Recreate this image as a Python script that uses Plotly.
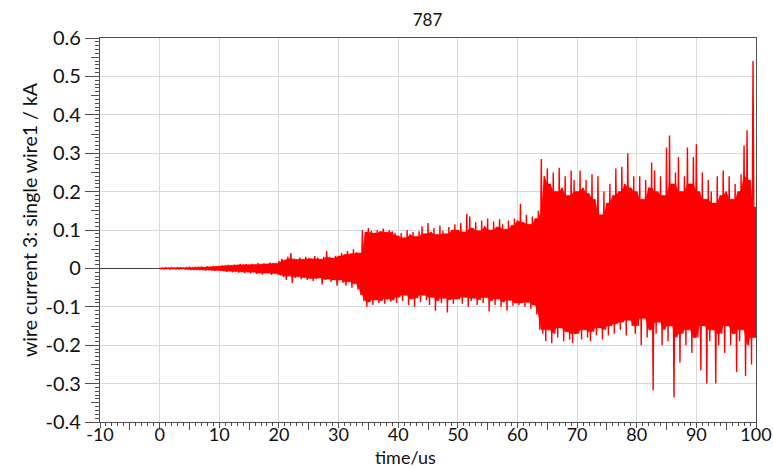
import numpy as np
import plotly.graph_objects as go

# sampling grid of the envelope readings (time in us)
T_START = 0.0
T_STEP = 0.5

# upper peak per 0.5 us bin (kA), t = 0 ... 100
UPPER = [
    0.001, 0.001, 0.002, 0.001, 0.002, 0.001, 0.002, 0.002, 0.001, 0.002,
    0.003, 0.002, 0.004, 0.003, 0.004, 0.003, 0.005, 0.004, 0.006, 0.005,
    0.006, 0.008, 0.007, 0.009, 0.008, 0.010, 0.009, 0.012, 0.010, 0.011,
    0.009, 0.012, 0.010, 0.014, 0.011, 0.013, 0.012, 0.015, 0.014, 0.013,
    0.020, 0.025, 0.022, 0.030, 0.040, 0.026, 0.023, 0.028, 0.024, 0.030,
    0.027, 0.025, 0.032, 0.028, 0.024, 0.030, 0.045, 0.030, 0.027, 0.033,
    0.032, 0.040, 0.036, 0.045, 0.038, 0.050, 0.042, 0.040, 0.100, 0.095,
    0.105, 0.098, 0.092, 0.100, 0.096, 0.104, 0.094, 0.100, 0.097, 0.093,
    0.085, 0.092, 0.080, 0.100, 0.088, 0.095, 0.083, 0.097, 0.110, 0.090,
    0.118, 0.095, 0.105, 0.088, 0.112, 0.098, 0.090, 0.108, 0.100, 0.115,
    0.100, 0.118, 0.095, 0.142, 0.135, 0.105, 0.120, 0.098, 0.125, 0.110,
    0.130, 0.100, 0.122, 0.108, 0.128, 0.115, 0.102, 0.125, 0.112, 0.130,
    0.125, 0.168, 0.120, 0.140, 0.115, 0.135, 0.130, 0.150, 0.285, 0.240,
    0.260, 0.220, 0.250, 0.200, 0.262, 0.210, 0.240, 0.190, 0.255, 0.230,
    0.200, 0.255, 0.210, 0.230, 0.195, 0.245, 0.180, 0.240, 0.140, 0.200,
    0.170, 0.220, 0.190, 0.260, 0.200, 0.265, 0.220, 0.300, 0.210, 0.240,
    0.200, 0.240, 0.180, 0.230, 0.210, 0.276, 0.255, 0.200, 0.240, 0.190,
    0.315, 0.346, 0.220, 0.250, 0.290, 0.200, 0.240, 0.315, 0.220, 0.290,
    0.323, 0.200, 0.250, 0.180, 0.230, 0.200, 0.170, 0.240, 0.190, 0.255,
    0.200, 0.240, 0.180, 0.220, 0.200, 0.245, 0.320, 0.360, 0.230, 0.540,
    0.160,
]

# lower peak per 0.5 us bin (kA), t = 0 ... 100
LOWER = [
    -0.001, -0.002, -0.001, -0.002, -0.001, -0.002, -0.002, -0.001, -0.002, -0.002,
    -0.003, -0.003, -0.004, -0.003, -0.004, -0.005, -0.004, -0.005, -0.006, -0.005,
    -0.006, -0.007, -0.009, -0.007, -0.010, -0.008, -0.011, -0.009, -0.012, -0.010,
    -0.013, -0.010, -0.014, -0.012, -0.016, -0.013, -0.012, -0.017, -0.013, -0.015,
    -0.018, -0.022, -0.030, -0.020, -0.038, -0.025, -0.022, -0.028, -0.024, -0.030,
    -0.026, -0.033, -0.027, -0.025, -0.042, -0.030, -0.028, -0.035, -0.030, -0.045,
    -0.030, -0.038, -0.045, -0.035, -0.050, -0.040, -0.055, -0.070, -0.085, -0.100,
    -0.088, -0.095, -0.082, -0.090, -0.085, -0.092, -0.080, -0.087, -0.083, -0.090,
    -0.075, -0.085, -0.070, -0.095, -0.080, -0.100, -0.078, -0.088, -0.070, -0.082,
    -0.095, -0.075, -0.110, -0.085, -0.090, -0.078, -0.115, -0.082, -0.092, -0.080,
    -0.080, -0.092, -0.075, -0.100, -0.085, -0.078, -0.095, -0.082, -0.090, -0.076,
    -0.112, -0.085, -0.095, -0.080, -0.100, -0.088, -0.110, -0.083, -0.097, -0.090,
    -0.095, -0.090, -0.100, -0.088, -0.105, -0.095, -0.120, -0.160, -0.170, -0.190,
    -0.160, -0.195, -0.170, -0.180, -0.155, -0.190, -0.165, -0.185, -0.195, -0.170,
    -0.170, -0.185, -0.160, -0.180, -0.190, -0.165, -0.175, -0.155, -0.185, -0.160,
    -0.175, -0.150, -0.170, -0.145, -0.160, -0.140, -0.175, -0.135, -0.150, -0.170,
    -0.150, -0.200, -0.130, -0.180, -0.160, -0.318, -0.170, -0.140, -0.200, -0.160,
    -0.190, -0.150, -0.336, -0.180, -0.245, -0.170, -0.200, -0.160, -0.220, -0.180,
    -0.180, -0.265, -0.150, -0.300, -0.190, -0.160, -0.300, -0.200, -0.170, -0.220,
    -0.150, -0.200, -0.170, -0.270, -0.190, -0.160, -0.280, -0.200, -0.250, -0.180,
    -0.220,
]

X_TICKS = [-10, 0, 10, 20, 30, 40, 50, 60, 70, 80, 90, 100]
X_TICK_TEXT = ["-10", "0", "10", "20", "30", "40", "50", "60", "70", "80", "90", "100"]
Y_TICKS = [-0.4, -0.3, -0.2, -0.1, 0, 0.1, 0.2, 0.3, 0.4, 0.5, 0.6]
Y_TICK_TEXT = ["-0.4", "-0.3", "-0.2", "-0.1", "0", "0.1", "0.2", "0.3", "0.4", "0.5", "0.6"]

TITLE = "787"
X_TITLE = "time/us"
Y_TITLE = "wire current 3: single wire1 / kA"

# build min/max zig-zag trace from the envelope readings
U = np.array(UPPER)
L = np.array(LOWER)
n = len(U)
t = T_START + T_STEP * np.arange(n)
xs = np.empty(2 * n)
ys = np.empty(2 * n)
xs[0::2] = t
xs[1::2] = t + T_STEP / 2
ys[0::2] = U
ys[1::2] = L

# solid core of the trace: where neighbouring strokes overlap
Up = np.concatenate([[U[0]], U, [U[-1]]])
Lp = np.concatenate([[L[0]], L, [L[-1]]])
core_u = np.minimum(np.minimum(Up[:-2], Up[1:-1]), Up[2:])
core_l = np.maximum(np.maximum(Lp[:-2], Lp[1:-1]), Lp[2:])
core_x = np.concatenate([t, t[::-1]])
core_y = np.concatenate([core_u, core_l[::-1]])

FONT = "Lato, 'Open Sans', sans-serif"
AX = "#505050"
GRID = "#d9d9d9"
RED = "#ff0000"

fig = go.Figure()
fig.add_trace(go.Scatter(x=core_x, y=core_y, mode="lines", fill="toself",
                         fillcolor=RED, line=dict(color=RED, width=0.5),
                         hoverinfo="skip", showlegend=False))
fig.add_trace(go.Scatter(x=xs, y=ys, mode="lines",
                         line=dict(color=RED, width=1.4),
                         hoverinfo="skip", showlegend=False))
# helper empty trace so the medium-tick overlay axes are drawn
fig.add_trace(go.Scatter(x=[], y=[], xaxis="x2", yaxis="y2", showlegend=False))

fig.update_layout(
    width=773, height=469,
    margin=dict(l=100, r=17, t=38, b=47),
    paper_bgcolor="white", plot_bgcolor="white",
    font=dict(family=FONT, size=19, color="#111"),
    title=dict(text=TITLE, x=0.553, xanchor="center", y=0.957, yanchor="middle",
               font=dict(family=FONT, size=17, color="#111")),
    xaxis=dict(range=[-10, 100], tickmode="array", tickvals=X_TICKS, ticktext=X_TICK_TEXT,
               ticks="outside", ticklen=5, tickcolor=AX, tickwidth=1,
               showline=True, linecolor=AX, linewidth=1.3, mirror=True,
               showgrid=True, gridcolor=GRID, gridwidth=1, zeroline=False,
               minor=dict(dtick=1, tick0=0, ticks="outside", ticklen=3, tickcolor=AX, showgrid=False),
               automargin=False, ticklabeloverflow="allow", ticklabelstandoff=-9,
               tickfont=dict(size=18)),
    yaxis=dict(range=[-0.4, 0.6], tickmode="array", tickvals=Y_TICKS, ticktext=Y_TICK_TEXT,
               ticks="outside", ticklen=14, tickcolor=AX, tickwidth=1,
               showline=True, linecolor=AX, linewidth=1.3, mirror=True,
               showgrid=True, gridcolor=GRID, gridwidth=1,
               zeroline=True, zerolinecolor="#404040", zerolinewidth=1,
               minor=dict(dtick=0.01, tick0=0, ticks="outside", ticklen=4, tickcolor=AX, showgrid=False),
               automargin=False, ticklabeloverflow="allow", tickfont=dict(size=20)),
    xaxis2=dict(range=[-10, 100], overlaying="x", anchor="y", side="bottom",
                tickmode="linear", tick0=-5, dtick=10, ticks="outside", ticklen=7,
                tickcolor=AX, showticklabels=False, showgrid=False, showline=False,
                zeroline=False, automargin=False),
    yaxis2=dict(range=[-0.4, 0.6], overlaying="y", anchor="x", side="left",
                tickmode="linear", tick0=0.05, dtick=0.1, ticks="outside", ticklen=8,
                tickcolor=AX, showticklabels=False, showgrid=False, showline=False,
                zeroline=False, automargin=False),
    annotations=[
        dict(text=X_TITLE, xref="paper", yref="paper", x=(405 - 100) / 656,
             y=(422 - 469) / 384, borderpad=0,
             xanchor="center", yanchor="bottom", showarrow=False,
             font=dict(family=FONT, size=18, color="#111")),
        dict(text=Y_TITLE, xref="paper", yref="paper", x=(29 - 100) / 656,
             y=(422 - 220) / 384, xanchor="center", yanchor="middle", textangle=-90,
             showarrow=False, font=dict(family=FONT, size=19.5, color="#111")),
    ],
)

fig.write_html("out.html")
